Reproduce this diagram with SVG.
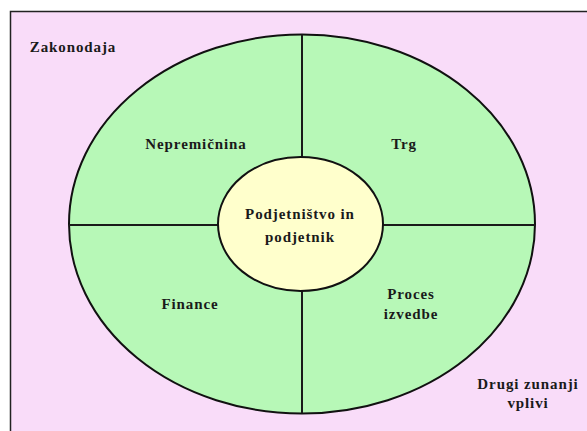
<svg xmlns="http://www.w3.org/2000/svg" width="587" height="431" viewBox="0 0 587 431">
<style>
.t{font-family:"Liberation Serif","Times New Roman",serif;font-weight:bold;font-size:15px;letter-spacing:0.9px;fill:#1a1a1a;text-anchor:middle}
.div{stroke:#1a1a1a;stroke-width:2;fill:none}
</style>
<rect width="587" height="431" fill="#ffffff"/>
<g id="background">
<rect x="10.5" y="11.5" width="590" height="430" fill="#f9dcf9" stroke="#222" stroke-width="1.5"/>
<text class="t" x="73" y="52">Zakonodaja</text>
<text class="t" x="528" y="389">Drugi zunanji</text>
<text class="t" x="528" y="408">vplivi</text>
</g>
<g id="outer">
<ellipse cx="302" cy="224" rx="233" ry="189.5" fill="#b7f8b7" stroke="#111" stroke-width="2"/>
</g>
<g id="connectors">
<line class="div" x1="302" y1="34.5" x2="302" y2="413.5"/>
<line class="div" x1="69" y1="225" x2="535" y2="225"/>
</g>
<g id="nepremicnina"><text class="t" x="196" y="149">Nepremičnina</text></g>
<g id="trg"><text class="t" x="404" y="149">Trg</text></g>
<g id="finance"><text class="t" x="190" y="309">Finance</text></g>
<g id="proces"><text class="t" x="411" y="299">Proces</text><text class="t" x="411" y="319">izvedbe</text></g>
<g id="center">
<ellipse cx="300.5" cy="224" rx="82.5" ry="67" fill="#ffffcc" stroke="#111" stroke-width="2"/>
<text class="t" x="300" y="219">Podjetništvo in</text>
<text class="t" x="300" y="242">podjetnik</text>
</g>
</svg>
